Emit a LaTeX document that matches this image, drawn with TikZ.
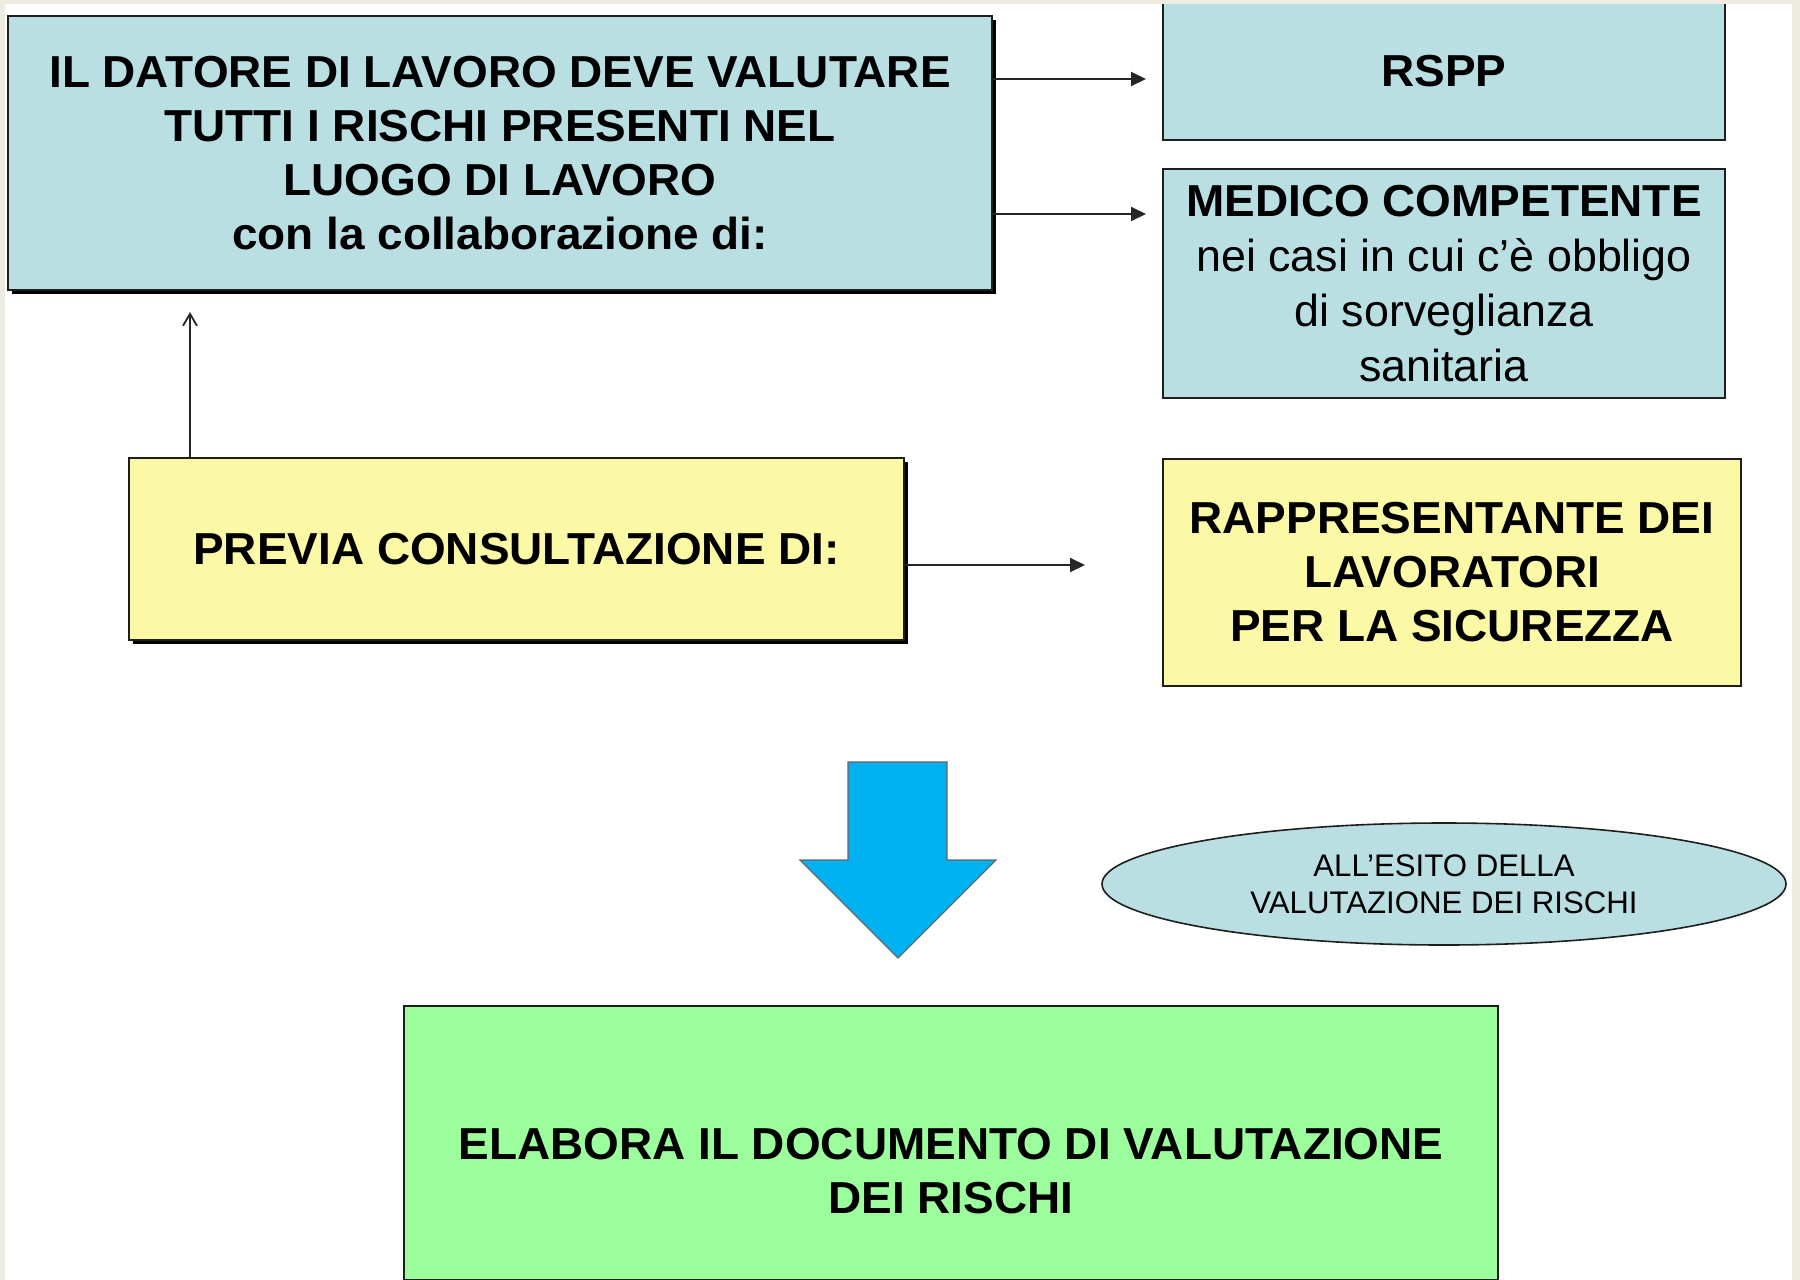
\documentclass[tikz,border=0pt]{standalone}
\usepackage{fontspec}
\setmainfont{Liberation Sans}[BoldFeatures={FakeStretch=1.025}]
\usetikzlibrary{arrows.meta,shadows,shapes.geometric}
\definecolor{boxblue}{RGB}{186,223,226}
\definecolor{boxyellow}{RGB}{251,249,166}
\definecolor{boxgreen}{RGB}{156,253,156}
\definecolor{arrowblue}{RGB}{0,176,240}
\definecolor{framebeige}{RGB}{238,236,225}
\definecolor{edge}{RGB}{30,30,30}
\tikzset{
  bigfont/.style={font=\fontsize{22.4pt}{27pt}\selectfont},
  shape box/.style={draw=edge, line width=1pt, rectangle, inner sep=0pt, align=center, text=black},
  shadowed/.style={drop shadow={shadow xshift=2pt,shadow yshift=-2pt,fill=black,opacity=1}},
  arr/.style={draw=black!85, line width=1pt, -{Triangle[length=7.5pt,width=7pt]}},
  openarr/.style={draw=black!85, line width=0.9pt, -{Straight Barb[length=6pt,width=7pt]}},
}
\begin{document}
\begin{tikzpicture}[x=0.5pt,y=-0.5pt]
\useasboundingbox (0,0) rectangle (1800,1280);
\fill[white] (0,0) rectangle (1800,1280);

% boxes
\node[shape box, shadowed, fill=boxblue, bigfont, minimum width=492pt, minimum height=137pt]
  (datore) at (500,153) {\bfseries IL DATORE DI LAVORO DEVE VALUTARE\\ \bfseries TUTTI I RISCHI PRESENTI NEL\\ \bfseries LUOGO DI LAVORO\\ \bfseries con la collaborazione di:};

\node[shape box, fill=boxblue, bigfont, minimum width=281pt, minimum height=69pt]
  (rspp) at (1444,71) {\bfseries RSPP};

\node[shape box, fill=boxblue, font=\fontsize{22.4pt}{27.5pt}\selectfont, minimum width=281pt, minimum height=114.5pt]
  (medico) at (1444,283.5) {\bfseries MEDICO COMPETENTE\\ nei casi in cui c’è obbligo\\ di sorveglianza\\ sanitaria};

\node[shape box, shadowed, fill=boxyellow, bigfont, minimum width=387.5pt, minimum height=91pt]
  (previa) at (516.5,549) {\bfseries PREVIA CONSULTAZIONE DI:};

\node[shape box, fill=boxyellow, bigfont, minimum width=289pt, minimum height=113.5pt]
  (rls) at (1452,572.5) {\bfseries RAPPRESENTANTE DEI\\ \bfseries LAVORATORI\\ \bfseries PER LA SICUREZZA};

\node[draw=edge, line width=0.8pt, ellipse, fill=boxblue, inner sep=0pt, align=center,
  font=\fontsize{15.6pt}{18.5pt}\selectfont, minimum width=342pt, minimum height=61pt]
  (esito) at (1444,884) {ALL’ESITO DELLA\\ VALUTAZIONE DEI RISCHI};

% green result box (runs past the lower edge)
\node[shape box, fill=boxgreen, line width=1.4pt, minimum width=547pt, minimum height=137pt]
  (doc) at (951,1143) {};
\node[bigfont, align=center, inner sep=0pt] (doctext) at (951,1171)
  {\bfseries ELABORA IL DOCUMENTO DI VALUTAZIONE\\ \bfseries DEI RISCHI};

% big blue arrow
\draw[fill=arrowblue, draw=black!60, line width=0.6pt]
  (848,762) -- (947,762) -- (947,860) -- (996,860) -- (898,958) -- (800,860) -- (848,860) -- cycle;

% connectors
\draw[arr, shorten >=8pt] ([yshift=-4pt]datore.east |- rspp.west) -- ([yshift=-4pt]rspp.west);
\draw[arr, shorten >=8pt] ([yshift=-23pt]datore.east |- medico.north) -- ([yshift=-23pt]medico.north west);
\draw[openarr, shorten >=10.5pt] ([xshift=31pt]previa.north west) -- ([xshift=31pt]previa.north west |- datore.south);
\draw[arr, shorten >=38.5pt] ([yshift=-8pt]previa.east) -- ([yshift=-8pt]previa.east -| rls.west);

% slide frame
\fill[framebeige] (0,0) rectangle (1800,4);
\fill[framebeige] (0,0) rectangle (5,1280);
\fill[framebeige] (1792,0) rectangle (1800,1280);
\end{tikzpicture}
\end{document}
